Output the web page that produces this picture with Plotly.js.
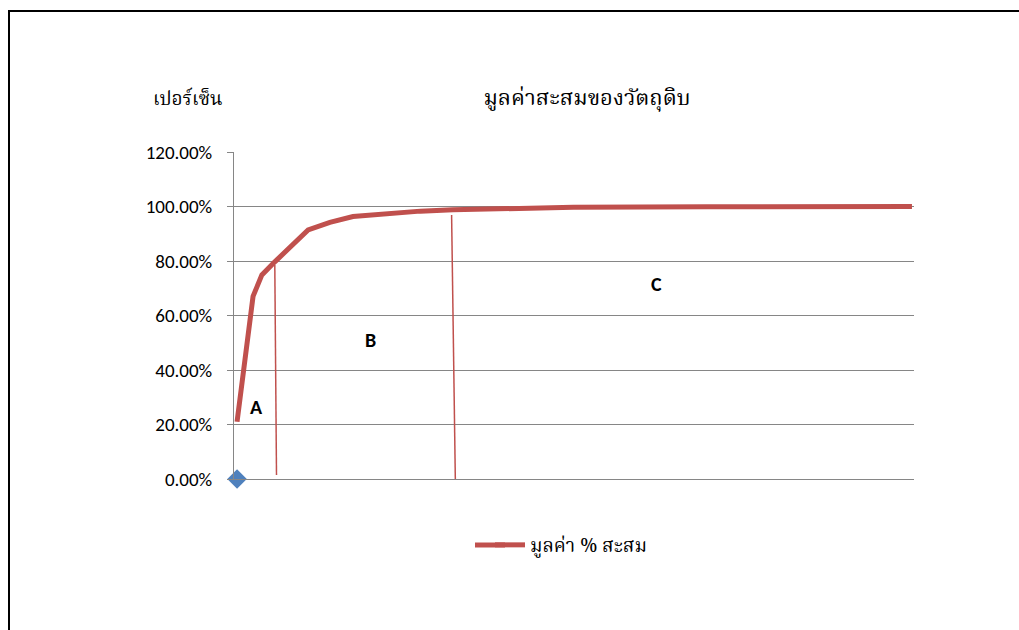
<!DOCTYPE html>
<html>
<head>
<meta charset="utf-8">
<script src="https://cdn.plot.ly/plotly-3.0.1.min.js"></script>
<style>html,body{margin:0;padding:0;background:#fff;}#chart{width:1019px;height:630px;}</style>
</head>
<body>
<div id="chart"></div>
<script>
// Cumulative share of items (x, %), cumulative value share (y)
var itemShare = [0.45, 2.8, 4.1, 6.0, 10.9, 14.1, 17.5, 22.5, 27.4, 32.2, 49.9, 69.6, 99.7];
var cumValue  = [0.21, 0.67, 0.749, 0.797, 0.914, 0.942, 0.963, 0.975, 0.983, 0.988, 0.997, 0.999, 1.0];
var originX = [0.45];
var originY = [0];
var yTicks = [0, 0.2, 0.4, 0.6, 0.8, 1.0, 1.2];
var yTickText = ["0.00%", "20.00%", "40.00%", "60.00%", "80.00%", "100.00%", "120.00%"];
var zoneNames = ["A", "B", "C"];
var zoneX = [3.24, 20, 62.2];
var zoneY = [0.264, 0.51, 0.716];
var boundX = [[6.0, 6.25], [32.0, 32.55]];
var boundY = [[0.785, 0.015], [0.969, -0.004]];

var thai = '"Noto Serif Thai", "Noto Sans Thai", "Liberation Serif", serif';
var latin = 'Carlito, Lato, "Liberation Sans", sans-serif';
var red = '#c0504d';
var grid = '#868686';

var traces = [
  {x: originX, y: originY, type: 'scatter', mode: 'markers', showlegend: false,
   marker: {symbol: 'diamond', size: 15, color: '#4f81bd'}, cliponaxis: false, hoverinfo: 'skip'},
  {x: itemShare, y: cumValue, type: 'scatter', mode: 'lines', name: 'มูลค่า % สะสม',
   line: {color: red, width: 5}, cliponaxis: false}
];

function px2x(p) { return (p - 234) / 680; }
function py2y(p) { return (479 - p) / 327; }

var shapes = boundX.map(function (bx, i) {
  return {type: 'line', xref: 'x', yref: 'y', x0: bx[0], x1: bx[1], y0: boundY[i][0], y1: boundY[i][1],
          line: {color: red, width: 1.5}};
});
// outer chart border
shapes.push({type: 'rect', xref: 'paper', yref: 'paper',
  x0: px2x(9), x1: px2x(1030), y0: py2y(645), y1: py2y(11),
  line: {color: '#000', width: 2}, fillcolor: 'rgba(0,0,0,0)'});
// longer legend sample line (Excel style)
shapes.push({type: 'line', xref: 'paper', yref: 'paper',
  x0: px2x(475), x1: px2x(505), y0: py2y(545), y1: py2y(545),
  line: {color: red, width: 5}});

var annotations = zoneNames.map(function (n, i) {
  return {x: zoneX[i], y: zoneY[i], xref: 'x', yref: 'y', text: '<b>' + n + '</b>', showarrow: false,
          font: {family: latin, size: 20, color: '#000'}};
});
annotations.push({x: px2x(187.5), y: py2y(100), xref: 'paper', yref: 'paper', text: 'เปอร์เซ็น', showarrow: false,
  xanchor: 'center', yanchor: 'middle', font: {family: thai, size: 19, color: '#000'}});

var layout = {
  width: 1019, height: 630,
  margin: {l: 234, r: 105, t: 152, b: 151, pad: 0},
  paper_bgcolor: '#fff', plot_bgcolor: '#fff',
  title: {text: 'มูลค่าสะสมของวัตถุดิบ', x: 587 / 1019, xanchor: 'center', y: 1 - 97 / 630, yanchor: 'middle',
          font: {family: thai, size: 22, color: '#000'}},
  xaxis: {range: [0, 100], showgrid: false, zeroline: false, showticklabels: false, ticks: '',
          showline: true, linecolor: grid, linewidth: 1, fixedrange: true},
  yaxis: {range: [0, 1.2], tickvals: yTicks, ticktext: yTickText, showgrid: true, gridcolor: grid, gridwidth: 1,
          zeroline: false, showline: true, linecolor: grid, linewidth: 1, ticks: 'outside', ticklen: 6,
          tickcolor: grid, ticklabelstandoff: 11,
          tickfont: {family: latin, size: 19, color: '#000'}},
  showlegend: true,
  legend: {orientation: 'h', x: px2x(490), y: py2y(545), xanchor: 'left', yanchor: 'middle',
           font: {family: thai, size: 19, color: '#000'}, bgcolor: 'rgba(0,0,0,0)'},
  shapes: shapes,
  annotations: annotations
};

Plotly.newPlot('chart', traces, layout, {displayModeBar: false, staticPlot: true});
</script>
</body>
</html>
